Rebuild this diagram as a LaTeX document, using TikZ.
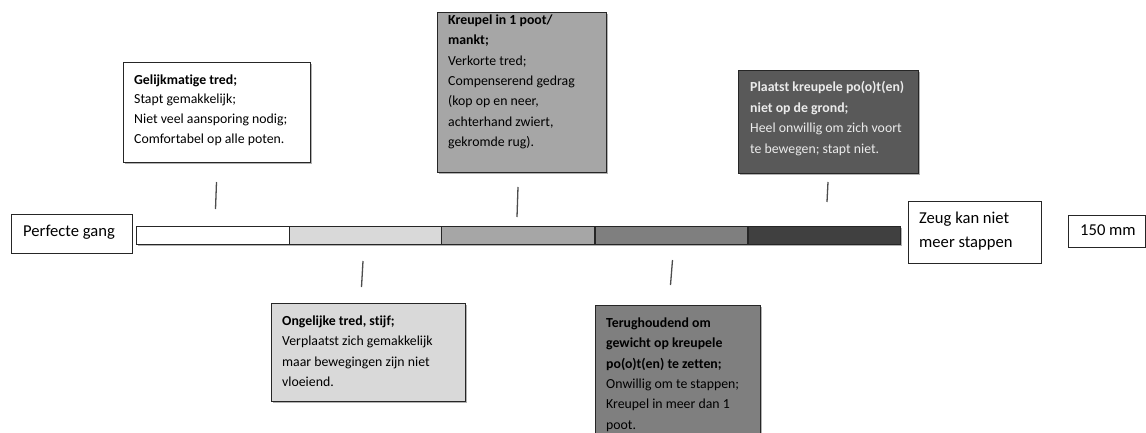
\documentclass[tikz,border=0pt]{standalone}
\usepackage{fontspec}
\setmainfont{Carlito}[Ligatures={NoCommon}]
\usetikzlibrary{shadows}
\definecolor{ga}{HTML}{D9D9D9}
\definecolor{gb}{HTML}{A6A6A6}
\definecolor{gc}{HTML}{7F7F7F}
\definecolor{gd}{HTML}{404040}
\definecolor{ge}{HTML}{595959}
\definecolor{edge}{HTML}{262626}
\definecolor{tickc}{HTML}{4D4D4D}
\begin{document}
\begin{tikzpicture}[x=1pt,y=-1pt,
  box/.style={draw=edge, line width=1pt, anchor=north west, inner sep=0pt,
    drop shadow={shadow xshift=1.3pt, shadow yshift=-1.3pt, opacity=0.3, fill=black}},
  plainbox/.style={draw=edge, line width=0.9pt, anchor=north west, inner sep=0pt, fill=white},
  seg/.style={draw=edge, line width=1.1pt, anchor=north west, inner sep=0pt,
    minimum width=152.5pt, minimum height=18pt},
  txt/.style={anchor=north west, inner sep=0pt, align=left,
    font=\fontsize{13.8}{20.4}\selectfont},
  bigtxt/.style={anchor=north west, inner sep=0pt, align=left,
    font=\fontsize{16.6}{24}\selectfont},
  tickline/.style={draw=tickc, line width=1.3pt}]
\useasboundingbox (0,0) rectangle (1146,433);

% scale bar with shadow
\fill[black, opacity=0.3] (137.5,227.5) rectangle (901.5,245.5);
\node[seg, fill=white] (s1) at (136,226) {};
\node[seg, fill=ga] (s2) at (288.5,226) {};
\node[seg, fill=gb] (s3) at (441,226) {};
\node[seg, fill=gc] (s4) at (594.5,226) {};
\node[seg, fill=gd] (s5) at (747.5,226) {};

% end labels
\node[plainbox, minimum width=121pt, minimum height=39pt] (bpg) at (11,214) {};
\node[bigtxt] (tpg) at (23,225) {Perfecte gang};
\node[plainbox, minimum width=133pt, minimum height=62pt] (bzk) at (908,201) {};
\node[bigtxt] (tzk) at (919,212) {Zeug kan niet\\meer stappen};
\node[plainbox, minimum width=77pt, minimum height=32pt] (bmm) at (1068,215) {};
\node[bigtxt] (tmm) at (1080,224.5) {150 mm};

% description boxes
\node[box, fill=white, minimum width=187pt, minimum height=100pt] (b1) at (123,62) {};
\node[txt, font=\fontsize{13.8}{19.6}\selectfont] (t1) at (134,74.5)
  {\textbf{Gelijkmatige tred;}\\Stapt gemakkelijk;\\Niet veel aansporing nodig;\\Comfortabel op alle poten.};

\node[box, fill=ga, minimum width=194pt, minimum height=98pt] (b2) at (271,303) {};
\node[txt] (t2) at (282,315.5)
  {\textbf{Ongelijke tred, stijf;}\\Verplaatst zich gemakkelijk\\maar bewegingen zijn niet\\vloeiend.};

\node[box, fill=gb, minimum width=169pt, minimum height=160pt] (b3) at (437,12) {};
\node[txt] (t3) at (448,14.5)
  {\textbf{Kreupel in 1 poot/}\\\textbf{mankt;}\\Verkorte tred;\\Compenserend gedrag\\(kop op en neer,\\achterhand zwiert,\\gekromde rug).};

\node[box, fill=gc, minimum width=165pt, minimum height=134pt] (b4) at (595,305) {};
\node[txt] (t4) at (606,317.5)
  {\textbf{Terughoudend om}\\\textbf{gewicht op kreupele}\\\textbf{po(o)t(en) te zetten;}\\Onwillig om te stappen;\\Kreupel in meer dan 1\\poot.};

\node[box, fill=ge, minimum width=180pt, minimum height=103pt] (b5) at (738,70) {};
\node[txt, text=white!92!black] (t5) at (750,81.5)
  {\textbf{Plaatst kreupele po(o)t(en)}\\\textbf{niet op de grond;}\\Heel onwillig om zich voort\\te bewegen; stapt niet.};

% ticks
\coordinate (k1a) at (216.5,182); \coordinate (k1b) at (215.5,209);
\coordinate (k2a) at (363,261);   \coordinate (k2b) at (361.5,287);
\coordinate (k3a) at (518,187);   \coordinate (k3b) at (517,217);
\coordinate (k4a) at (672.5,260); \coordinate (k4b) at (670.5,285);
\coordinate (k5a) at (828,182);   \coordinate (k5b) at (827,202);
\draw[tickline] (k1a) -- (k1b);
\draw[tickline] (k2a) -- (k2b);
\draw[tickline] (k3a) -- (k3b);
\draw[tickline] (k4a) -- (k4b);
\draw[tickline] (k5a) -- (k5b);
\end{tikzpicture}
\end{document}
